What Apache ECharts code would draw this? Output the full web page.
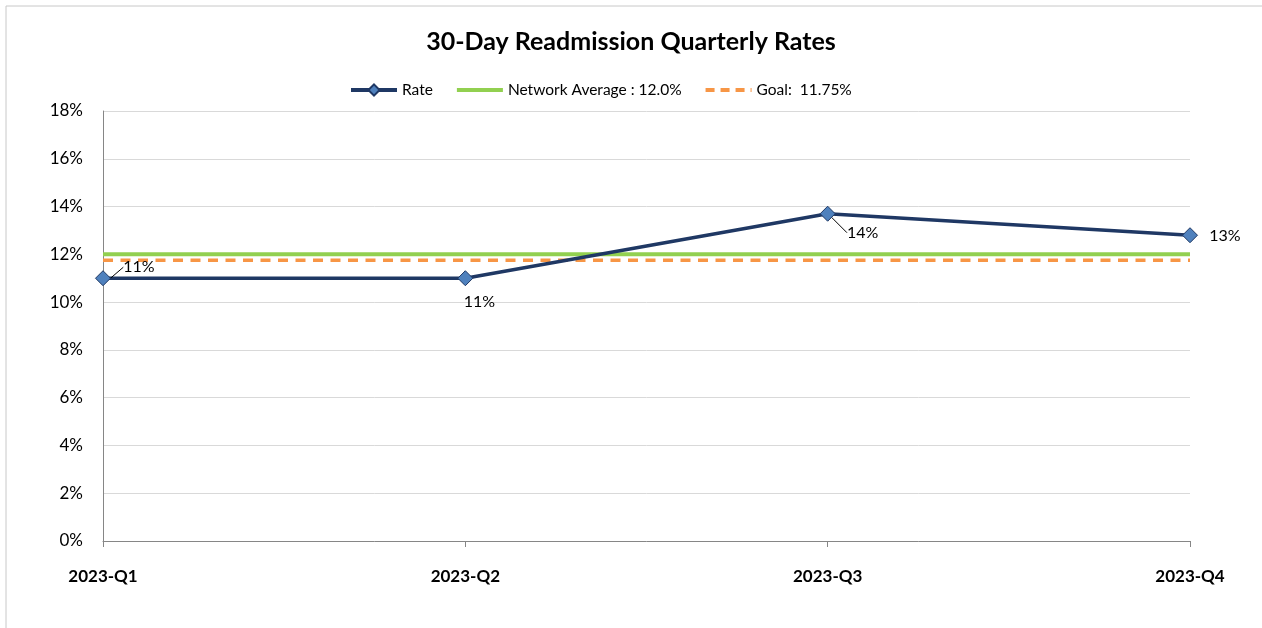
<!DOCTYPE html>
<html>
<head>
<meta charset="utf-8">
<script src="https://cdn.jsdelivr.net/npm/echarts@6/dist/echarts.min.js"></script>
<style>
  html, body { margin: 0; padding: 0; background: #fff; }
  #chart { width: 1262px; height: 628px; }
</style>
</head>
<body>
<div id="chart"></div>
<script>
// 数据
var quarters = ['2023-Q1', '2023-Q2', '2023-Q3', '2023-Q4'];
var rateValues = [11.0, 11.0, 13.7, 12.8];
var networkAverage = [12.0, 12.0, 12.0, 12.0];
var goalValues = [11.75, 11.75, 11.75, 11.75];

// 各点标签偏移 / 是否画引线
var labelOffsets = [
    {dx: 36, dy: -11},
    {dx: 14, dy: 24},
    {dx: 35, dy: 19},
    {dx: 35, dy: 1}
];
var labelLineShow = [true, false, true, false];

var FONT = 'Lato, "Open Sans", sans-serif';

var myChart = echarts.init(document.getElementById('chart'));

var rateData = rateValues.map(function (v, i) {
    return {value: v, labelLine: {show: labelLineShow[i]}};
});

var option = {
    backgroundColor: '#fff',
    animation: false,
    textStyle: {fontFamily: FONT},
    title: {
        text: '30-Day Readmission Quarterly Rates',
        left: 'center',
        top: 24,
        textStyle: {fontSize: 25, fontWeight: 'bold', color: '#000', fontFamily: FONT}
    },
    legend: {
        top: 77,
        left: 344,
        itemGap: 22,
        itemWidth: 46,
        itemHeight: 14,
        textStyle: {fontSize: 15.5, color: '#000', fontFamily: FONT},
        data: [
            {name: 'Rate', lineStyle: {width: 4}},
            {name: 'Network Average : 12.0%', itemStyle: {opacity: 0}, lineStyle: {width: 4}},
            {name: 'Goal:  11.75%', itemStyle: {opacity: 0}, lineStyle: {width: 4, type: [9, 6]}}
        ]
    },
    grid: {
        left: 103,
        right: 72,
        top: 111,
        bottom: 87,
        containLabel: false
    },
    xAxis: {
        type: 'category',
        boundaryGap: false,
        data: quarters,
        axisLine: {lineStyle: {color: '#868686', width: 1}},
        axisTick: {show: true, alignWithLabel: true, length: 6, lineStyle: {color: '#868686'}},
        axisLabel: {fontSize: 17, fontWeight: 'bold', color: '#000', margin: 27, fontFamily: FONT},
        splitLine: {show: false}
    },
    yAxis: {
        type: 'value',
        min: 0,
        max: 18,
        interval: 2,
        axisLine: {show: true, lineStyle: {color: '#868686'}},
        axisTick: {show: false},
        axisLabel: {
            fontSize: 17,
            color: '#000',
            margin: 20,
            fontFamily: FONT,
            formatter: function (v) { return v + '%'; }
        },
        splitLine: {lineStyle: {color: '#d9d9d9', width: 1}}
    },
    graphic: [
        {type: 'line', shape: {x1: 6, y1: 6, x2: 1262, y2: 6}, style: {stroke: '#c8c8c8', lineWidth: 1}},
        {type: 'line', shape: {x1: 6, y1: 6, x2: 6, y2: 628}, style: {stroke: '#c8c8c8', lineWidth: 1}}
    ],
    series: [
        {
            name: 'Network Average : 12.0%',
            type: 'line',
            data: networkAverage,
            symbol: 'none',
            z: 2,
            lineStyle: {color: '#92D050', width: 4},
            itemStyle: {color: '#92D050'}
        },
        {
            name: 'Goal:  11.75%',
            type: 'line',
            data: goalValues,
            symbol: 'none',
            z: 2,
            lineStyle: {color: '#F79646', width: 3.5, type: [10, 7.5]},
            itemStyle: {color: '#F79646'}
        },
        {
            name: 'Rate',
            type: 'line',
            data: rateData,
            symbol: 'diamond',
            symbolSize: 15,
            z: 3,
            lineStyle: {color: '#1F3864', width: 3.5},
            itemStyle: {color: '#4F81BD', borderColor: '#1F3864', borderWidth: 1},
            label: {
                show: true,
                position: 'inside',
                fontSize: 16,
                color: '#000',
                fontFamily: FONT,
                formatter: function (p) { return Math.round(p.value) + '%'; }
            },
            labelLine: {show: true, lineStyle: {color: '#000', width: 1}},
            labelLayout: function (params) {
                return labelOffsets[params.dataIndex];
            }
        }
    ]
};

myChart.setOption(option);
</script>
</body>
</html>
